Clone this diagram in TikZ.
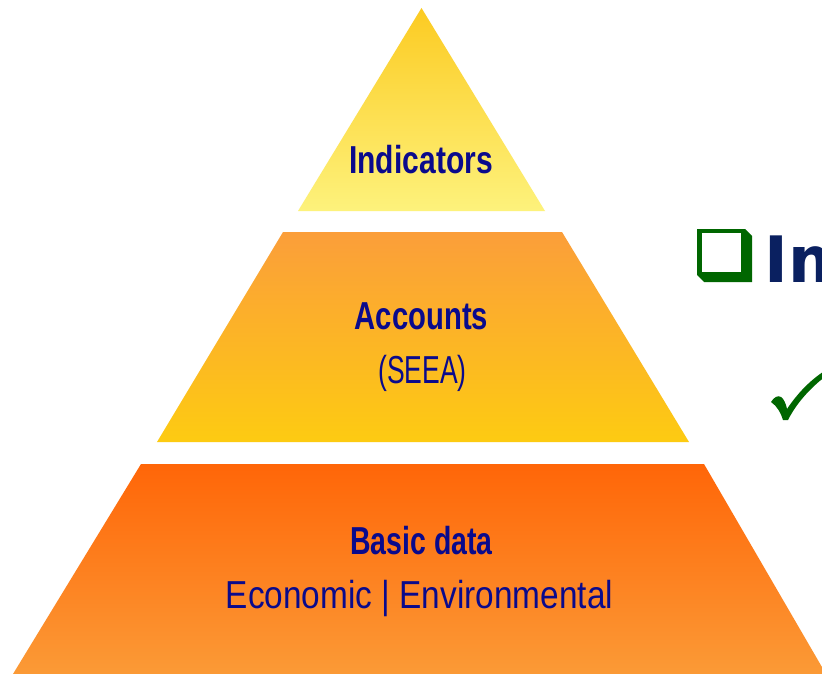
\documentclass[tikz,border=0pt]{standalone}
\usepackage{fontspec}
\setmainfont{Liberation Sans}
\newfontfamily\imfont{DejaVu Sans}
\definecolor{indtop}{HTML}{FCCB22}
\definecolor{indbot}{HTML}{FDF27C}
\definecolor{acctop}{HTML}{FB9E3A}
\definecolor{accbot}{HTML}{FDCB12}
\definecolor{bastop}{HTML}{FF6608}
\definecolor{basbot}{HTML}{FB9A36}
\definecolor{lblblue}{HTML}{0A0A8C}
\definecolor{imblue}{HTML}{0A2060}
\definecolor{boxgreen}{HTML}{006600}
\begin{document}
\begin{tikzpicture}[x=1pt,y=-1pt,
  lbl/.style={inner sep=0pt, anchor=base, text=lblblue},
  bigb/.style={font=\bfseries\fontsize{39}{39}\selectfont},
  bigr/.style={font=\fontsize{39}{39}\selectfont}]
\useasboundingbox (0,0) rectangle (822,674);
\fill[white] (0,0) rectangle (822,674);
% pyramid layers
\shade[top color=indtop,bottom color=indbot] (421.5,8) -- (545,211) -- (298,211) -- cycle;
\shade[top color=acctop,bottom color=accbot] (283,232) -- (562,232) -- (689,442) -- (157,442) -- cycle;
\shade[top color=bastop,bottom color=basbot] (141,464) -- (704,464) -- (826,674) -- (13,674) -- cycle;
% labels
\node[lbl,bigb] (ind) at (421,174) {\scalebox{0.77}[1]{Indicators}};
\node[lbl,bigb] (acc) at (421.5,329) {\scalebox{0.75}[1]{Accounts}};
\node[lbl,bigr] (seea) at (422.5,383) {\scalebox{0.68}[1]{(SEEA)}};
\node[lbl,bigb] (bas) at (421.5,554) {\scalebox{0.73}[1]{Basic data}};
\node[lbl,bigr] (eco) at (419.5,608) {\scalebox{0.856}[1]{Economic | Environmental}};
% right side bullet
\fill[boxgreen] (697,229) -- (745,229) -- (752,236) -- (752,282) -- (704,282) -- (697,275) -- cycle;
\fill[white] (702,232.5) rectangle (741,272);
\begin{scope}
\clip (0,0) rectangle (822,674);
\node[anchor=base west, inner sep=0pt, text=imblue,
  font=\imfont\bfseries\fontsize{64}{64}\selectfont] (im) at (764,282) {Im};
\fill[boxgreen] (771,402) .. controls (774,397) and (778,395) .. (781,397)
  .. controls (784,399) and (786,404) .. (787,409)
  .. controls (797,394) and (810,380) .. (826,370)
  -- (826,376)
  .. controls (810,388) and (796,404) .. (788,420)
  -- (783,420)
  .. controls (781,413) and (777,406) .. (771,402) -- cycle;
\end{scope}
\end{tikzpicture}
\end{document}
